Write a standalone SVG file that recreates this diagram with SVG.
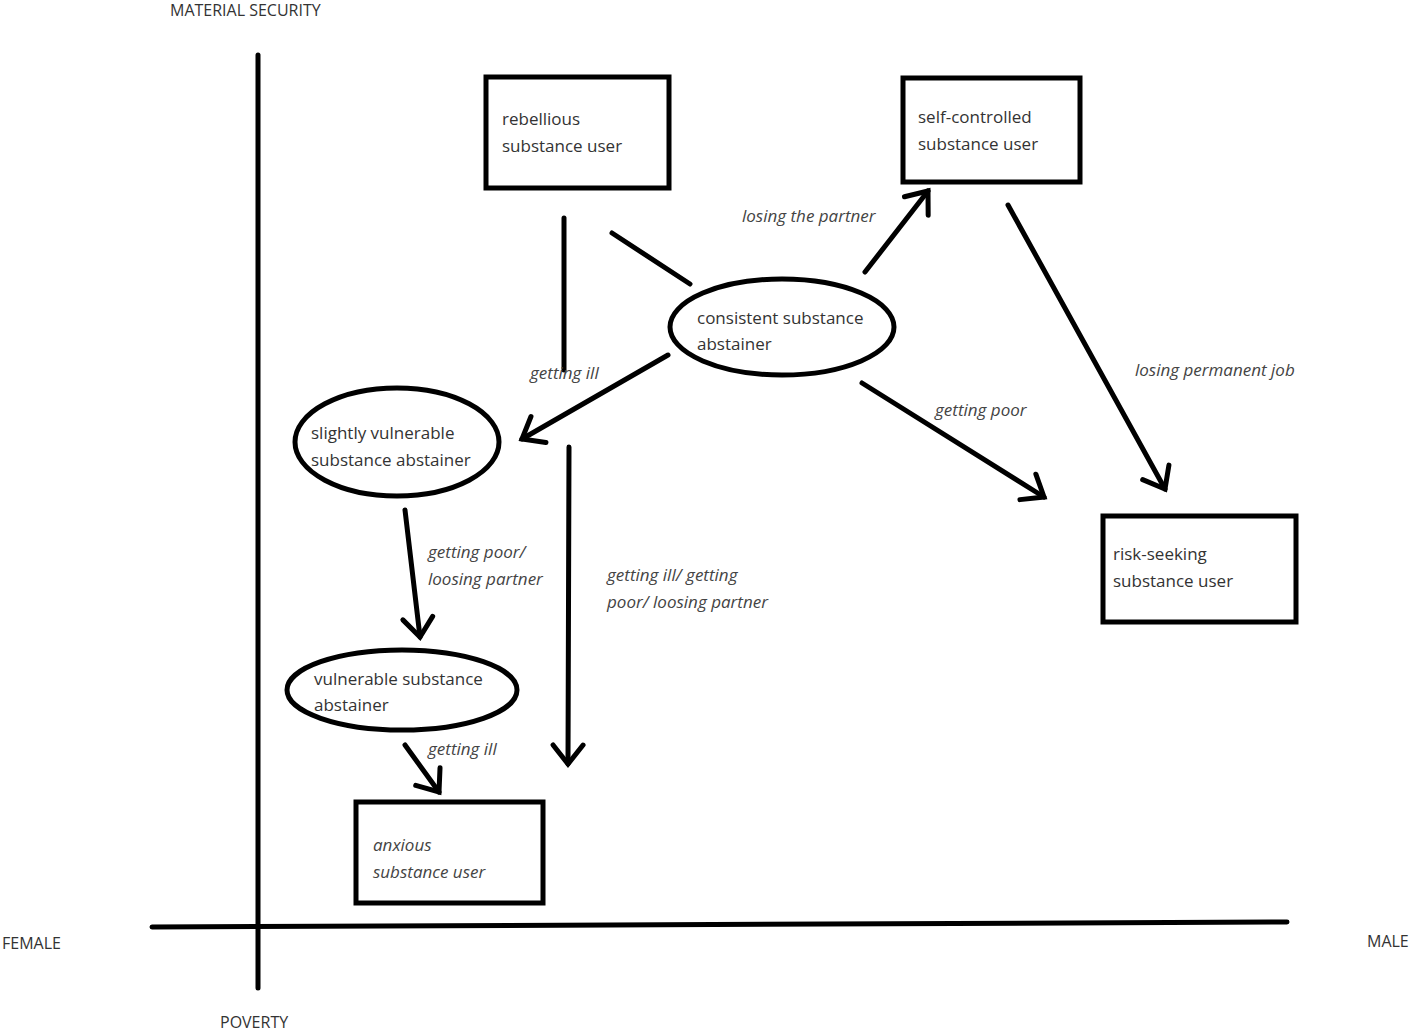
<svg xmlns="http://www.w3.org/2000/svg" width="1420" height="1032" viewBox="0 0 1420 1032">
<style>
.n{fill:none;stroke:#000;stroke-width:5}
.t{font-family:"Open Sans","Liberation Sans",sans-serif;font-size:17px;fill:#333}
.i{font-family:"Open Sans","Liberation Sans",sans-serif;font-size:17px;font-style:italic;fill:#444}
.a{font-family:"Open Sans","Liberation Sans",sans-serif;font-size:16px;fill:#333}
.c{fill:none;stroke:#000;stroke-width:5;stroke-linecap:round}
</style>
<defs>
<marker id="ah" markerUnits="userSpaceOnUse" markerWidth="50" markerHeight="50" refX="25" refY="25" orient="auto" viewBox="0 0 50 50">
<path d="M6,10 L25,25 L6,40" fill="none" stroke="#000" stroke-width="5" stroke-linecap="round"/>
</marker>
</defs>
<rect width="1420" height="1032" fill="#fff"/>
<g id="axes">
<line x1="258" y1="55" x2="258" y2="988" class="c"/>
<line x1="152" y1="927" x2="1287" y2="922" class="c"/>
<text x="170" y="16" class="a">MATERIAL SECURITY</text>
<text x="2" y="949" class="a">FEMALE</text>
<text x="1367" y="947" class="a">MALE</text>
<text x="220" y="1028" class="a">POVERTY</text>
</g>
<g id="rebellious"><rect x="486" y="77" width="183" height="111" class="n"/><text x="502" y="125" class="t">rebellious</text><text x="502" y="152" class="t">substance user</text></g>
<g id="selfcontrolled"><rect x="903" y="78" width="177" height="104" class="n"/><text x="918" y="123" class="t">self-controlled</text><text x="918" y="150" class="t">substance user</text></g>
<g id="consistent"><ellipse cx="782" cy="327" rx="112" ry="48" class="n"/><text x="697" y="324" class="t">consistent substance</text><text x="697" y="350" class="t">abstainer</text></g>
<g id="slightly"><ellipse cx="397" cy="442" rx="102" ry="54" class="n"/><text x="311" y="439" class="t">slightly vulnerable</text><text x="311" y="466" class="t">substance abstainer</text></g>
<g id="vulnerable"><ellipse cx="402" cy="690" rx="115" ry="40" class="n"/><text x="314" y="685" class="t">vulnerable substance</text><text x="314" y="711" class="t">abstainer</text></g>
<g id="riskseeking"><rect x="1103" y="516" width="193" height="106" class="n"/><text x="1113" y="560" class="t">risk-seeking</text><text x="1113" y="587" class="t">substance    user</text></g>
<g id="anxious"><rect x="356" y="802" width="187" height="101" class="n"/><text x="373" y="851" class="i">anxious</text><text x="373" y="878" class="i">substance user</text></g>
<g id="connectors">
<line x1="564" y1="218" x2="564" y2="370" class="c"/>
<line x1="612" y1="233" x2="690" y2="284" class="c"/>
<line x1="668" y1="355" x2="522" y2="439" class="c" marker-end="url(#ah)"/>
<line x1="865" y1="272" x2="928" y2="191" class="c" marker-end="url(#ah)"/>
<line x1="1008" y1="205" x2="1165" y2="489" class="c" marker-end="url(#ah)"/>
<line x1="862" y1="383" x2="1044" y2="497" class="c" marker-end="url(#ah)"/>
<line x1="405" y1="510" x2="420" y2="637" class="c" marker-end="url(#ah)"/>
<line x1="569" y1="447" x2="568" y2="764" class="c" marker-end="url(#ah)"/>
<line x1="405" y1="745" x2="439" y2="792" class="c" marker-end="url(#ah)"/>
<text x="742" y="222" class="i">losing the partner</text>
<text x="530" y="379" class="i">getting ill</text>
<text x="1135" y="376" class="i">losing permanent job</text>
<text x="935" y="416" class="i">getting poor</text>
<text x="428" y="558" class="i">getting poor/</text>
<text x="428" y="585" class="i">loosing partner</text>
<text x="607" y="581" class="i">getting ill/ getting</text>
<text x="607" y="608" class="i">poor/ loosing partner</text>
<text x="428" y="755" class="i">getting ill</text>
</g>
</svg>
